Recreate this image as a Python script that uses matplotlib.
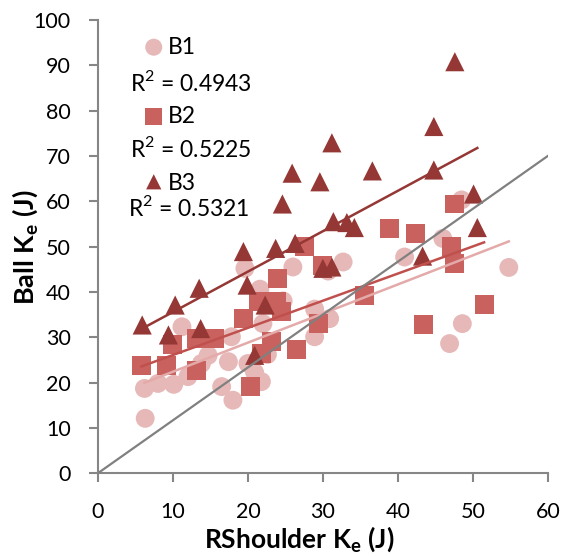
import numpy as np
import matplotlib
matplotlib.use("Agg")
import matplotlib.pyplot as plt

plt.rcParams['font.family'] = ['Lato', 'DejaVu Sans']
plt.rcParams['mathtext.fontset'] = 'custom'
plt.rcParams['mathtext.rm'] = 'Lato'
plt.rcParams['mathtext.bf'] = 'Lato:bold'

# Ball vs right shoulder kinetic energy, three groups
b1_x = [6.3, 6.2, 8.0, 10.1, 12.0, 11.2, 13.8, 14.7, 16.5, 18.0, 17.4, 17.8, 19.6, 20.0, 20.9, 21.8,
        21.6, 22.0, 22.6, 24.7, 26.0, 28.9, 28.9, 30.9, 30.7, 32.7, 40.9, 46.0, 48.5, 54.8, 48.6, 46.9]
b1_y = [12.1, 18.7, 19.8, 19.6, 21.3, 32.3, 24.2, 26.0, 19.1, 16.1, 24.6, 30.1, 45.2, 24.2, 22.2, 20.2,
        40.6, 33.0, 26.2, 38.0, 45.5, 36.2, 30.1, 34.1, 44.6, 46.6, 47.7, 51.8, 60.3, 45.4, 33.0, 28.6]

b2_x = [5.8, 9.1, 10.0, 13.2, 13.2, 15.6, 19.4, 20.3, 21.4, 24.0, 23.8, 24.5, 23.1, 21.8, 26.5, 27.6,
        29.4, 30.0, 38.9, 42.3, 47.5, 47.2, 47.5, 35.5, 51.5, 43.4]
b2_y = [23.8, 23.8, 28.3, 22.7, 29.7, 29.7, 34.1, 19.1, 37.8, 43.0, 37.8, 35.6, 29.0, 26.4, 27.2, 50.0,
        33.0, 45.9, 54.0, 52.9, 59.4, 50.0, 46.3, 39.3, 37.3, 32.9]

b3_x = [5.9, 9.4, 10.3, 13.5, 13.7, 19.4, 19.9, 22.3, 20.9, 23.7, 26.3, 30.0, 31.2, 47.6, 44.8, 31.2,
        36.6, 44.8, 29.6, 50.1, 31.4, 33.2, 34.2, 50.6, 24.6, 25.9, 43.3]
b3_y = [32.7, 30.5, 37.1, 40.8, 31.9, 48.9, 41.5, 37.1, 26.0, 49.6, 50.7, 45.2, 45.5, 90.8, 76.5, 72.9,
        66.7, 66.9, 64.3, 61.6, 55.5, 55.3, 54.2, 54.2, 59.4, 66.2, 47.9]

r2_text = ['R$^2$ = 0.4943', 'R$^2$ = 0.5225', 'R$^2$ = 0.5321']
ref_x = [0, 60]
ref_y = [0, 70]

col1, col2, col3 = '#E6B9B8', '#C9625E', '#953735'
line1, line2, line3 = '#E4AAA9', '#C0504D', '#953735'

fig = plt.figure(figsize=(5.63, 5.56), dpi=100)
ax = fig.add_axes([0.174, 0.149, 0.799, 0.815])

ax.scatter(b1_x, b1_y, s=185, marker='o', color=col1, edgecolors='none', zorder=2)
ax.scatter(b2_x, b2_y, s=185, marker='s', color=col2, edgecolors='none', zorder=3)
ax.scatter(b3_x, b3_y, s=190, marker='^', color=col3, edgecolors='none', zorder=4)

# linear trendlines over each group's x range
for xs, ys, c in [(b1_x, b1_y, line1), (b2_x, b2_y, line2), (b3_x, b3_y, line3)]:
    xs = np.array(xs)
    k, b = np.polyfit(xs, ys, 1)
    xx = np.array([xs.min(), xs.max()])
    ax.plot(xx, k * xx + b, color=c, lw=1.8, zorder=5)

ax.plot(ref_x, ref_y, color='#808080', lw=1.6, zorder=5)

ax.set_xlim(0, 60)
ax.set_ylim(0, 100)
ax.set_xticks(range(0, 61, 10))
ax.set_yticks(range(0, 101, 10))
ax.tick_params(direction='out', length=6.5, width=1.5, color='#868686', labelsize=15.5)
ax.tick_params(axis='x', pad=14)
ax.tick_params(axis='y', pad=13)
for side in ['top', 'right']:
    ax.spines[side].set_visible(False)
for side in ['left', 'bottom']:
    ax.spines[side].set_color('#868686')
    ax.spines[side].set_linewidth(1.5)

ax.set_xlabel(r'RShoulder K$_\mathbf{e}$ (J)', fontsize=19, fontweight='bold')
ax.set_ylabel(r'Ball K$_\mathbf{e}$ (J)', fontsize=19.5, fontweight='bold')
ax.xaxis.label.set_va('center')
ax.yaxis.label.set_va('center')
ax.xaxis.set_label_coords(0.447, -0.146)
ax.yaxis.set_label_coords(-0.162, 0.499)

# legend block with R² values
tr = ax.transAxes
ax.scatter([0.124], [0.940], s=150, marker='o', color=col1, edgecolors='none', transform=tr, clip_on=False)
ax.text(0.156, 0.940, 'B1', transform=tr, fontsize=16.5, va='center')
ax.text(0.071, 0.863, r2_text[0], transform=tr, fontsize=16.5, va='center')
ax.scatter([0.124], [0.788], s=150, marker='s', color=col2, edgecolors='none', transform=tr, clip_on=False)
ax.text(0.156, 0.788, 'B2', transform=tr, fontsize=16.5, va='center')
ax.text(0.071, 0.717, r2_text[1], transform=tr, fontsize=16.5, va='center')
ax.scatter([0.124], [0.643], s=120, marker='^', color=col3, edgecolors='none', transform=tr, clip_on=False)
ax.text(0.156, 0.640, 'B3', transform=tr, fontsize=16.5, va='center')
ax.text(0.066, 0.587, r2_text[2], transform=tr, fontsize=16.5, va='center')

fig.savefig('out.png', dpi=100)
